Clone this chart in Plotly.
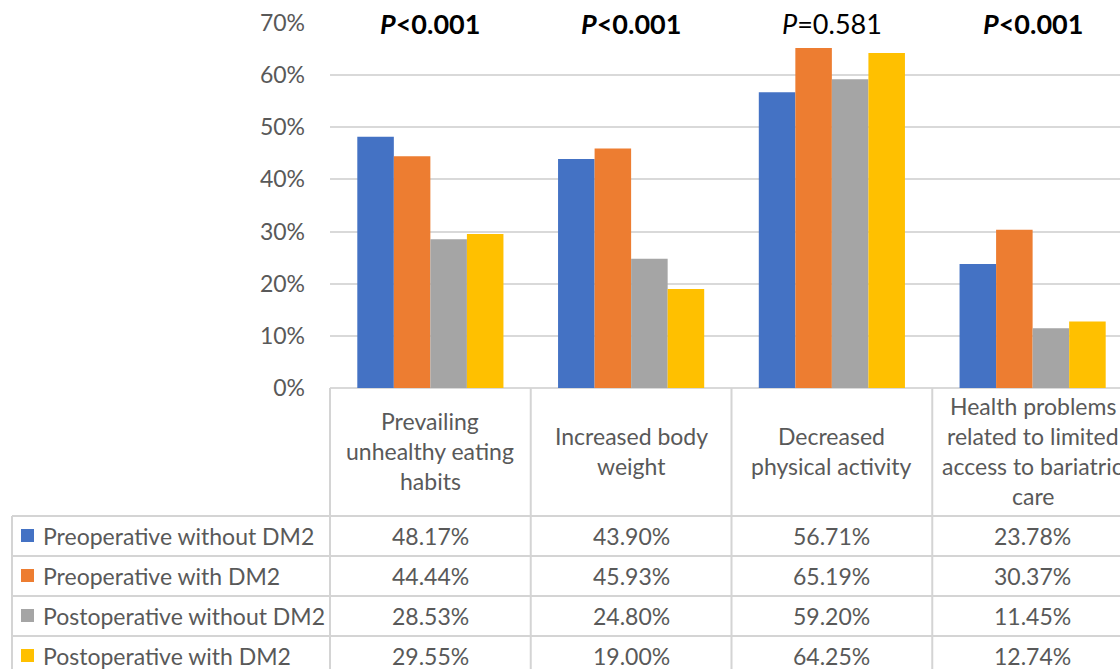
import plotly.graph_objects as go

# ---------------- data ----------------
categories = [
    "Prevailing<br>unhealthy eating<br>habits",
    "Increased body<br>weight",
    "Decreased<br>physical activity",
    "Health problems<br>related to limited<br>access to bariatric<br>care",
]
series_names = [
    "Preoperative without DM2",
    "Preoperative with DM2",
    "Postoperative without DM2",
    "Postoperative with DM2",
]
pre_without = [48.17, 43.90, 56.71, 23.78]
pre_with = [44.44, 45.93, 65.19, 30.37]
post_without = [28.53, 24.80, 59.20, 11.45]
post_with = [29.55, 19.00, 64.25, 12.74]
p_labels = ["P<0.001", "P<0.001", "P=0.581", "P<0.001"]
p_bold = [True, True, False, True]
y_ticks = [0, 10, 20, 30, 40, 50, 60, 70]
y_tick_labels = [f"{t}%" for t in y_ticks]

series_values = [pre_without, pre_with, post_without, post_with]
colors = ["#4472C4", "#ED7D31", "#A5A5A5", "#FFC000"]

W, H = 1120, 669
FONT = "Lato"
TXT = "#595959"
GRID = "#D9D9D9"
FS = 23


def px(x):
    return x / W


def py(y):
    return 1 - y / H


plot_left, plot_top, plot_bottom = 330, 23, 388
cat_w = 200.75
x_idx = list(range(len(categories)))

fig = go.Figure()
for name, vals, col in zip(series_names, series_values, colors):
    fig.add_trace(go.Bar(x=x_idx, y=vals, name=name, marker_color=col,
                         marker_line_width=0, showlegend=False,
                         hoverinfo="skip"))

fig.update_layout(
    width=W, height=H, autosize=False, showlegend=False,
    margin=dict(l=0, r=0, t=0, b=0, pad=0),
    paper_bgcolor="white", plot_bgcolor="white",
    barmode="group", bargap=0.272, bargroupgap=0,
    font=dict(family=FONT, color=TXT, size=FS),
    xaxis=dict(domain=[px(plot_left), 1],
               range=[-0.5, -0.5 + (W - plot_left) / cat_w],
               showticklabels=False, showgrid=False, zeroline=False,
               showline=False, fixedrange=True, automargin=False),
    yaxis=dict(domain=[py(plot_bottom), py(plot_top)], range=[0, 70],
               tickmode="array", tickvals=y_ticks, ticktext=y_tick_labels,
               tickfont=dict(family=FONT, size=FS, color=TXT),
               showgrid=True, gridcolor=GRID, gridwidth=2,
               zeroline=True, zerolinecolor=GRID, zerolinewidth=2,
               showline=False, ticks="", ticklabelstandoff=24,
               automargin=False, fixedrange=True),
)

shapes = []
line = dict(color="#D4D4D4", width=2)
table_bottom = 700
for i in range(len(categories) + 1):
    xv = plot_left + i * cat_w
    shapes.append(dict(type="line", xref="paper", yref="paper",
                       x0=px(xv), x1=px(xv), y0=py(plot_bottom), y1=py(table_bottom),
                       line=line))
shapes.append(dict(type="line", xref="paper", yref="paper",
                   x0=px(12), x1=px(12), y0=py(516), y1=py(table_bottom), line=line))
for ry in [516, 556, 596, 636, 676]:
    shapes.append(dict(type="line", xref="paper", yref="paper",
                       x0=px(12), x1=1.02, y0=py(ry), y1=py(ry), line=line))

annotations = []
header_mid = 451
line_h = 30
for i, cat in enumerate(categories):
    lines = cat.split("<br>")
    n = len(lines)
    for j, t in enumerate(lines):
        yy = header_mid + (j - (n - 1) / 2) * line_h
        annotations.append(dict(xref="x", yref="paper", x=i, y=py(yy),
                                text=t, showarrow=False, xanchor="center",
                                yanchor="middle",
                                font=dict(family=FONT, size=FS, color=TXT)))

for r, (name, vals, col) in enumerate(zip(series_names, series_values, colors)):
    cy = 536 + r * 40
    shapes.append(dict(type="rect", xref="paper", yref="paper",
                       x0=px(21), x1=px(34), y0=py(cy - 7), y1=py(cy + 6),
                       fillcolor=col, line=dict(width=0)))
    annotations.append(dict(xref="paper", yref="paper", x=px(41), y=py(cy),
                            text=name, showarrow=False, xanchor="left",
                            yanchor="middle",
                            font=dict(family=FONT, size=FS, color=TXT)))
    for i, v in enumerate(vals):
        annotations.append(dict(xref="x", yref="paper", x=i, y=py(cy),
                                text=f"{v:.2f}%", showarrow=False,
                                xanchor="center", yanchor="middle",
                                font=dict(family=FONT, size=FS, color=TXT)))

for i, (lab, b) in enumerate(zip(p_labels, p_bold)):
    rest = lab[1:].replace("<", "&lt;")
    html = f"<i>P</i>{rest}"
    if b:
        html = f"<b>{html}</b>"
    annotations.append(dict(xref="x", yref="paper", x=i, y=py(24),
                            text=html, showarrow=False, xanchor="center",
                            yanchor="middle",
                            font=dict(family=FONT, size=27, color="#000000")))

fig.update_layout(shapes=shapes, annotations=annotations)
fig.write_html("out.html",
               config={"displayModeBar": False, "staticPlot": True},
               post_script="document.body.style.margin='0';document.body.style.overflow='hidden';")
